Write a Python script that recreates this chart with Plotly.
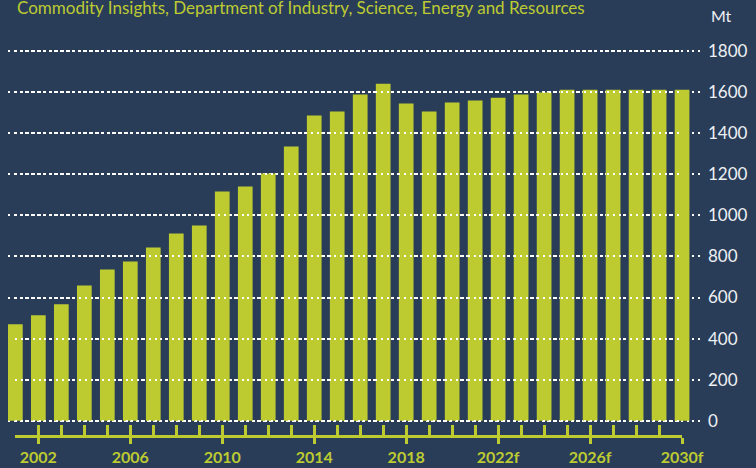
import plotly.graph_objects as go

years = list(range(2001, 2031))
output_mt = [470, 513, 567, 659, 737, 776, 844, 912, 951, 1117,
             1141, 1204, 1336, 1487, 1506, 1589, 1642, 1545, 1506, 1550,
             1560, 1574, 1589, 1599, 1613, 1613, 1613, 1613, 1613, 1613]
tick_years = [2002, 2006, 2010, 2014, 2018, 2022, 2026, 2030]
tick_text = ["2002", "2006", "2010", "2014", "2018", "2022f", "2026f", "2030f"]
source_text = "Commodity Insights, Department of Industry, Science, Energy and Resources"

bg = "#293d59"
lime = "#bdcb31"
white = "#eef1f4"

# x range: a little room left of the first bar, and past the last bar so the grid reaches the labels
x_lo, x_hi = 2000.68, 2030.78
d_start = (years[0] - x_lo) / (x_hi - x_lo)
d_end = (years[-1] - x_lo) / (x_hi - x_lo)

fig = go.Figure()
fig.add_trace(go.Bar(x=years, y=output_mt, marker_color=lime, marker_line_width=0,
                     hoverinfo="x+y"))
# invisible carriers so the decorative axes get drawn
for ax in ["x2", "x3"]:
    fig.add_trace(go.Scatter(x=years, y=output_mt, xaxis=ax, mode="markers",
                             marker=dict(opacity=0), hoverinfo="skip"))

fig.update_layout(
    width=756, height=468,
    paper_bgcolor=bg, plot_bgcolor="rgba(0,0,0,0)",
    margin={"l": 8, "r": 56, "t": 41, "b": 33},
    bargap=0.36, showlegend=False,
    font=dict(family="Lato", color=white),
    xaxis=dict(range=[x_lo, x_hi], showgrid=False, showticklabels=False,
               zeroline=False, showline=False, ticks="", automargin=False),
    # visible axis line + labelled ticks, spanning first to last bar
    xaxis2=dict(anchor="y", domain=[d_start, d_end], range=[years[0], years[-1]],
                showline=True, linecolor=lime, linewidth=2.5,
                tickmode="array", tickvals=tick_years, ticktext=tick_text,
                ticks="outside", ticklen=6, tickwidth=2.5, tickcolor=lime,
                tickfont=dict(family="Lato", size=16, color=lime, weight="bold"),
                showgrid=False, zeroline=False, automargin=False),
    # small inside ticks under every bar
    xaxis3=dict(overlaying="x2", anchor="y", range=[years[0], years[-1]],
                showline=False, tickmode="linear", tick0=years[0], dtick=1,
                ticks="inside", ticklen=10, tickwidth=2.5, tickcolor=lime,
                showticklabels=False, showgrid=False, zeroline=False, automargin=False),
    yaxis=dict(side="right", range=[-70, 1850], tickmode="linear", tick0=0, dtick=200,
               showgrid=True, gridcolor="white", gridwidth=2, griddash="2px,3.8px",
               zeroline=False, showline=False, ticks="", automargin=False,
               tickfont=dict(family="Lato", size=17, color=white),
               ticklabelstandoff=7),
)

fig.add_annotation(text="Mt", xref="paper", yref="paper", x=1, y=1.0635,
                   xanchor="left", yanchor="middle", xshift=9, showarrow=False,
                   font=dict(family="Lato", size=16, color=white))
fig.add_annotation(text=source_text, xref="paper", yref="paper", x=0, y=1.1164,
                   xanchor="left", yanchor="top", xshift=7, showarrow=False,
                   font=dict(family="Lato", size=17, color=lime))

fig.write_html("out.html", config={"displayModeBar": False},
               post_script="document.body.style.margin='0';")
